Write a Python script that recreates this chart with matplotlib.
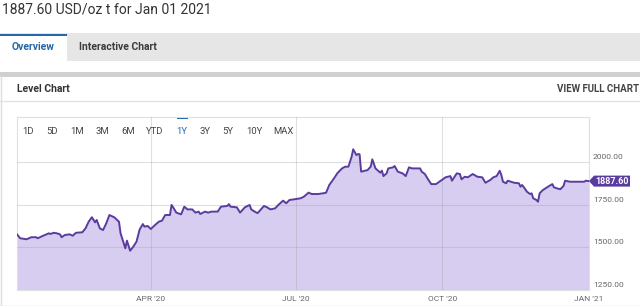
import matplotlib
matplotlib.use("Agg")
import matplotlib.pyplot as plt
import matplotlib.transforms as mtransforms
from matplotlib.patches import Rectangle, Polygon
from matplotlib.lines import Line2D
import pandas as pd

plt.rcParams["font.family"] = ["Roboto", "DejaVu Sans"]

# gold price, USD/oz t
dates = [
    "2020-01-08", "2020-01-10", "2020-01-14", "2020-01-17", "2020-01-20", "2020-01-21",
    "2020-01-24", "2020-01-28", "2020-01-29", "2020-01-31", "2020-02-02", "2020-02-04",
    "2020-02-05", "2020-02-07", "2020-02-10", "2020-02-12", "2020-02-14", "2020-02-18",
    "2020-02-20", "2020-02-22", "2020-02-24", "2020-02-26", "2020-02-27", "2020-02-29",
    "2020-03-02", "2020-03-04", "2020-03-06", "2020-03-09", "2020-03-12", "2020-03-13",
    "2020-03-14", "2020-03-16", "2020-03-17", "2020-03-19", "2020-03-21", "2020-03-23",
    "2020-03-25", "2020-03-27", "2020-03-28", "2020-03-30", "2020-04-01", "2020-04-03",
    "2020-04-06", "2020-04-08", "2020-04-10", "2020-04-13", "2020-04-14", "2020-04-15",
    "2020-04-17", "2020-04-20", "2020-04-22", "2020-04-24", "2020-04-27", "2020-04-29",
    "2020-05-01", "2020-05-02", "2020-05-05", "2020-05-07", "2020-05-09", "2020-05-13",
    "2020-05-15", "2020-05-19", "2020-05-20", "2020-05-21", "2020-05-25", "2020-05-27",
    "2020-05-30", "2020-06-02", "2020-06-03", "2020-06-05", "2020-06-07", "2020-06-11",
    "2020-06-13", "2020-06-15", "2020-06-18", "2020-06-20", "2020-06-23", "2020-06-25",
    "2020-06-27", "2020-06-30", "2020-07-04", "2020-07-06", "2020-07-09", "2020-07-11",
    "2020-07-15", "2020-07-18", "2020-07-20", "2020-07-22", "2020-07-25", "2020-07-27",
    "2020-07-30", "2020-08-01", "2020-08-03", "2020-08-05", "2020-08-06", "2020-08-08",
    "2020-08-09", "2020-08-10", "2020-08-11", "2020-08-15", "2020-08-17", "2020-08-18",
    "2020-08-20", "2020-08-23", "2020-08-24", "2020-08-25", "2020-08-27", "2020-08-28",
    "2020-08-31", "2020-09-01", "2020-09-03", "2020-09-06", "2020-09-08", "2020-09-10",
    "2020-09-12", "2020-09-15", "2020-09-17", "2020-09-18", "2020-09-20", "2020-09-22",
    "2020-09-24", "2020-09-27", "2020-09-30", "2020-10-03", "2020-10-06", "2020-10-07",
    "2020-10-10", "2020-10-12", "2020-10-13", "2020-10-15", "2020-10-17", "2020-10-20",
    "2020-10-23", "2020-10-26", "2020-10-28", "2020-10-31", "2020-11-02", "2020-11-04",
    "2020-11-06", "2020-11-07", "2020-11-08", "2020-11-10", "2020-11-11", "2020-11-15",
    "2020-11-18", "2020-11-19", "2020-11-20", "2020-11-22", "2020-11-23", "2020-11-25",
    "2020-11-26", "2020-11-27", "2020-11-29", "2020-11-30", "2020-12-01", "2020-12-03",
    "2020-12-07", "2020-12-09", "2020-12-10", "2020-12-12", "2020-12-14", "2020-12-16",
    "2020-12-17", "2020-12-20", "2020-12-24", "2020-12-29", "2020-12-30", "2021-01-01",
]
prices = [
    1576, 1553, 1547, 1559, 1559, 1553,
    1566, 1582, 1578, 1585, 1582, 1576,
    1559, 1572, 1576, 1568, 1585, 1588,
    1611, 1650, 1676, 1646, 1660, 1611,
    1601, 1640, 1689, 1676, 1650, 1582,
    1553, 1494, 1539, 1480, 1504, 1533,
    1605, 1636, 1621, 1625, 1607, 1625,
    1650, 1656, 1689, 1689, 1748, 1734,
    1703, 1693, 1738, 1722, 1722, 1703,
    1709, 1695, 1709, 1703, 1709, 1709,
    1738, 1742, 1753, 1738, 1734, 1703,
    1734, 1748, 1722, 1710, 1700, 1742,
    1734, 1722, 1728, 1748, 1773, 1758,
    1777, 1781, 1787, 1796, 1820, 1812,
    1812, 1816, 1820, 1865, 1904, 1933,
    1962, 1972, 1972, 2030, 2074, 2040,
    2046, 2045, 1943, 1952, 1972, 2015,
    1962, 1937, 1949, 1917, 1933, 1962,
    1968, 1976, 1943, 1933, 1917, 1968,
    1962, 1962, 1962, 1943, 1929, 1898,
    1870, 1870, 1890, 1910, 1917, 1890,
    1933, 1929, 1898, 1913, 1910, 1929,
    1913, 1910, 1878, 1894, 1910, 1917,
    1948, 1923, 1884, 1875, 1890, 1878,
    1875, 1855, 1865, 1840, 1826, 1812,
    1816, 1787, 1777, 1767, 1816, 1835,
    1859, 1870, 1851, 1845, 1840, 1859,
    1890, 1884, 1884, 1884, 1890, 1887.60,
]

y_ticks = [1250, 1500, 1750, 2000]
x_ticks = ["2020-04-01", "2020-07-01", "2020-10-01", "2021-01-01"]
x_labels = ["APR '20", "JUL '20", "OCT '20", "JAN '21"]
ranges = ["1D", "5D", "1M", "3M", "6M", "YTD", "1Y", "3Y", "5Y", "10Y", "MAX"]
active_range = "1Y"
title = "1887.60 USD/oz t for Jan 01 2021"

W, H = 640, 306
BLUE = "#2468a8"
LINE = "#5a3b9e"
FILL = "#d7cdf0"


def fx(x):
    return x / W


def fy(y):
    return 1 - y / H


fig = plt.figure(figsize=(W / 100, H / 100), dpi=100)
fig.patch.set_facecolor("white")

# page header
fig.text(fx(2), fy(10), title, fontsize=10, color="#333333", va="center", ha="left")

# tab bar
fig.add_artist(Rectangle((0, fy(61)), 1, 28 / H, transform=fig.transFigure, fc="#e6e6e6", ec="none"))
fig.add_artist(Rectangle((0, fy(61)), fx(67), 25 / H, transform=fig.transFigure, fc="white", ec="none"))
fig.add_artist(Rectangle((0, fy(36)), fx(67), 2.5 / H, transform=fig.transFigure, fc=BLUE, ec="none"))
fig.text(fx(33.5), fy(47), "Overview", fontsize=7.5, fontweight="bold", color=BLUE, ha="center", va="center")
fig.text(fx(117.5), fy(47), "Interactive Chart", fontsize=7.5, fontweight="bold", color="#3c3c3c",
         ha="center", va="center")

# card
fig.add_artist(Rectangle((0, fy(76.5)), 1, 4.5 / H, transform=fig.transFigure, fc="#d0d0d0", ec="none"))
fig.add_artist(Line2D([0, 1], [fy(101)] * 2, transform=fig.transFigure, color="#e3e3e3", lw=1))
fig.add_artist(Line2D([fx(0.5)] * 2, [fy(76), fy(306)], transform=fig.transFigure, color="#dedede", lw=1))
fig.add_artist(Line2D([0, 1], [fy(305.5)] * 2, transform=fig.transFigure, color="#dedede", lw=1))
fig.text(fx(17), fy(89), "Level Chart", fontsize=7.5, fontweight="bold", color="#333333", va="center")
fig.text(fx(639), fy(89), "VIEW FULL CHART", fontsize=7, fontweight="bold", color="#444444",
         va="center", ha="right")

# chart
ax = fig.add_axes([fx(17), fy(290), (589 - 17) / W, (290 - 117) / H])
x = pd.to_datetime(dates)
ax.fill_between(x, prices, y_ticks[0], color=FILL, lw=0, zorder=1)
ax.plot(x, prices, color=LINE, lw=1.4, zorder=3)
ax.set_xlim(x[0], pd.Timestamp(x_ticks[-1]))
ax.set_ylim(y_ticks[0], 2263)

ax.set_xticks(pd.to_datetime(x_ticks))
ax.set_xticklabels(x_labels, fontsize=6, color="#666666")
ax.set_yticks(y_ticks)
ax.set_yticklabels([])
ax.tick_params(length=0, pad=4.5)
ax.set_axisbelow(False)
ax.grid(True, color="#9a9a9a", alpha=0.3, lw=0.8, zorder=2)
for s in ax.spines.values():
    s.set_color("#e0e0e0")
    s.set_linewidth(0.8)

blend = mtransforms.blended_transform_factory(ax.transAxes, ax.transData)
ylab = mtransforms.offset_copy(blend, fig=fig, x=4, y=5, units="dots")
for v in y_ticks:
    ax.text(1.0, v, f"{v:.2f}", transform=ylab, ha="left", va="center", fontsize=6, color="#666666",
            clip_on=False)

# last value tag
tx, ty = blend.transform((1.0, prices[-1]))
tag = Polygon([[tx, ty], [tx + 5, ty + 5.5], [tx + 41, ty + 5.5], [tx + 41, ty - 5.5], [tx + 5, ty - 5.5]],
              closed=True, transform=mtransforms.IdentityTransform(), fc=LINE, ec="none")
fig.add_artist(tag)
fig.text(tx + 23.5, ty, f"{prices[-1]:.2f}", transform=mtransforms.IdentityTransform(), fontsize=6.5,
         fontweight="bold", color="white", ha="center", va="center")

# range buttons
btn_x = [28, 52, 77, 102, 128, 155, 182, 205, 228, 254.5, 283.5]
for lbl, bx in zip(ranges, btn_x):
    fig.text(fx(bx), fy(131), lbl, fontsize=6.8, color=BLUE if lbl == active_range else "#444444",
             ha="center", va="center")
    if lbl == active_range:
        fig.add_artist(Rectangle((fx(bx - 5.5), fy(119.5)), 11 / W, 1.8 / H, transform=fig.transFigure,
                                 fc=BLUE, ec="none"))

fig.savefig("out.png", dpi=100)
